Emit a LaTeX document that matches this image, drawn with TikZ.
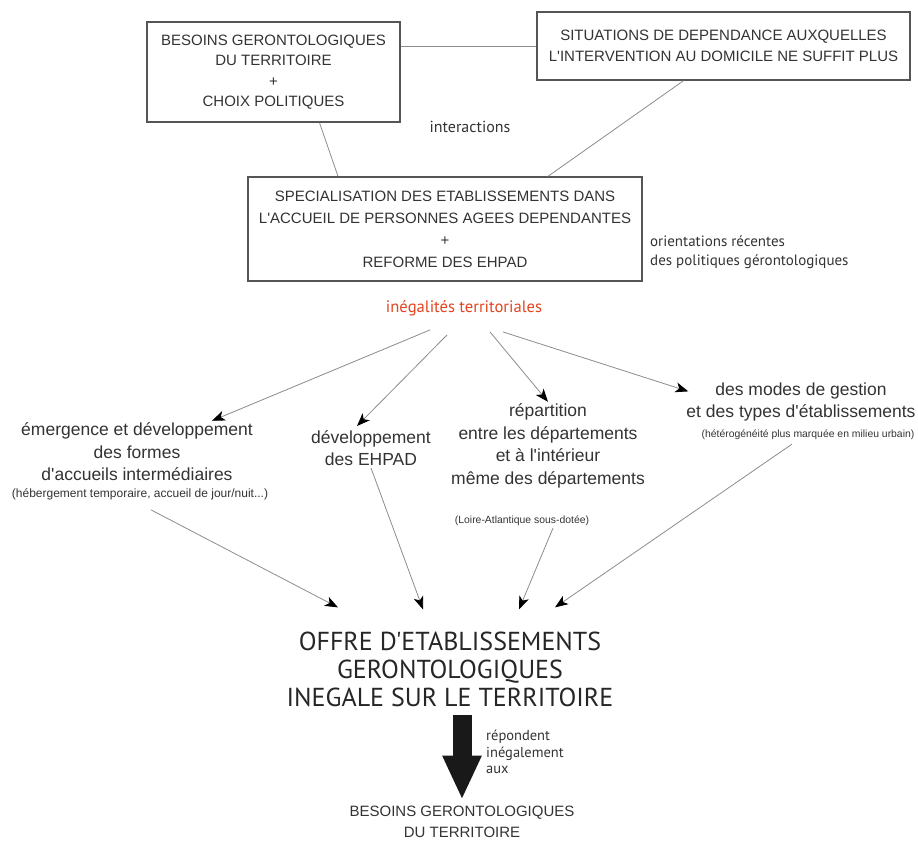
\documentclass[tikz,border=0pt]{standalone}
\usepackage{fontspec}
\setmainfont{Liberation Sans}[Ligatures=TeXOff]
\newfontfamily\humfont{PT Sans}[Ligatures=TeXOff]
\usetikzlibrary{arrows.meta,calc}
\definecolor{ink}{HTML}{333333}
\definecolor{wire}{HTML}{8C8C8C}
\definecolor{frame}{HTML}{555555}
\definecolor{alert}{HTML}{E2451F}

\begin{document}
\begin{tikzpicture}[x=1pt,y=-1pt,>={Stealth[length=13,width=10,inset=3.5,color=black]},
  box/.style={draw=frame,line width=1.4,align=center,text=ink,inner sep=2,font=\fontsize{15}{20.5}\selectfont},
  lbl/.style={align=center,text=ink,inner sep=2,font=\fontsize{17.5}{22.5}\selectfont},
  note/.style={text=ink,inner sep=2,font=\fontsize{10.4}{12}\selectfont},
  hum/.style={text=ink,inner sep=2,font=\humfont\fontsize{15}{19.5}\selectfont},
  wire/.style={draw=wire,line width=0.8}]
\useasboundingbox (0,0) rectangle (918,843);

% top: the two boxes and what they feed
\node[box,minimum width=253,minimum height=100] (b1) at (273.5,72) {BESOINS GERONTOLOGIQUES\\DU TERRITOIRE\\+\\CHOIX POLITIQUES};
\node[box,minimum width=373,minimum height=68] (b2) at (723.5,46) {SITUATIONS DE DEPENDANCE AUXQUELLES\\L'INTERVENTION AU DOMICILE NE SUFFIT PLUS};
\node[hum,font=\humfont\fontsize{16}{19}\selectfont] (inter) at (470,127) {interactions};
\node[box,minimum width=394,minimum height=104,font=\fontsize{15}{22}\selectfont] (b3) at (445,229) {SPECIALISATION DES ETABLISSEMENTS DANS\\L'ACCUEIL DE PERSONNES AGEES DEPENDANTES\\+\\REFORME DES EHPAD};
\node[hum,align=left,anchor=west] (orient) at (648,252) {orientations récentes\\des politiques gérontologiques};
\draw[wire] (b1.east |- b2.west) -- (b2.west);
\draw[wire] ($(b1.south)+(46,0)$) -- ($(b3.north)+(-107,0)$);
\draw[wire] ($(b2.south)+(-40,0)$) -- ($(b3.north)+(103,0)$);

% the four forms of inequality
\node[hum,text=alert,font=\humfont\fontsize{16.6}{19}\selectfont] (ineg) at (464,308) {inégalités territoriales};
\node[lbl] (em) at (137,452) {émergence et développement\\des formes\\d'accueils intermédiaires};
\node[note,font=\fontsize{12}{14}\selectfont] (emNote) at (140,494) {(hébergement temporaire, accueil de jour/nuit...)};
\node[lbl] (ehpad) at (371,448) {développement\\des EHPAD};
\node[lbl] (rep) at (548,446) {répartition\\entre les départements\\et à l'intérieur\\même des départements};
\node[note] (repNote) at (522,521) {(Loire-Atlantique sous-dotée)};
\node[lbl] (modes) at (801,402) {des modes de gestion\\et des types d'établissements};
\node[note] (modesNote) at (808,435) {(hétérogénéité plus marquée en milieu urbain)};
\draw[wire,->] ($(ineg.south)+(-34,12)$) -- ($(em.north)+(75,0)$);
\draw[wire,->] ($(ineg.south)+(-17,17)$) -- ($(ehpad.north)+(-14,-2)$);
\draw[wire,->] ($(ineg.south)+(26,14)$) -- (rep.north);
\draw[wire,->] ($(ineg.south)+(39,14)$) -- ($(modes.north west)+(4,11)$);

% result
\node[hum,align=center,text=black!85,font=\humfont\fontsize{26}{28}\selectfont] (offre) at (450,669) {OFFRE D'ETABLISSEMENTS\\GERONTOLOGIQUES\\INEGALE SUR LE TERRITOIRE};
\draw[wire,->] ($(emNote.south)+(11,8)$) -- ($(offre.north)+(-112,-22)$);
\draw[wire,->] (ehpad.south) -- ($(offre.north)+(-27,-20)$);
\draw[wire,->] ($(repNote.south)+(31,0)$) -- ($(offre.north)+(69,-20)$);
\draw[wire,->] ($(modesNote.south)+(-16,2)$) -- ($(offre.north)+(105,-22)$);

\node[box,draw=none] (bes) at (462,822) {BESOINS GERONTOLOGIQUES\\DU TERRITOIRE};
\node[hum,align=left,anchor=west,font=\humfont\fontsize{14.5}{16.5}\selectfont] (ans) at (484,752) {répondent\\inégalement\\aux};
\draw[line width=19,black!90,-{Triangle[length=44,width=36]}] ($(offre.south -| bes.north)+(0,6)$) -- ($(bes.north)+(0,-4)$);
\end{tikzpicture}
\end{document}
